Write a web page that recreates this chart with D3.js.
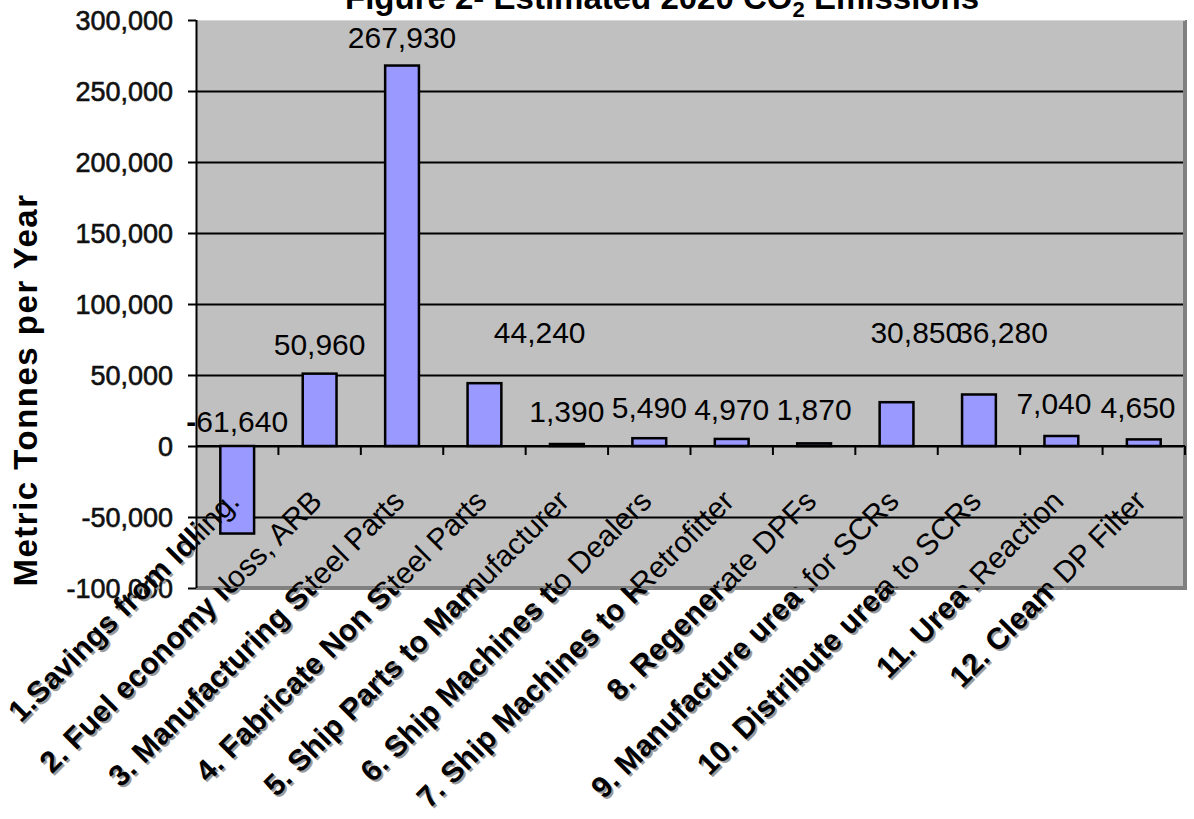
<!DOCTYPE html>
<html><head><meta charset="utf-8">
<script src="https://cdn.jsdelivr.net/npm/d3@7"></script>
<style>
html,body{margin:0;padding:0;background:#fff;}
svg{display:block;font-family:"Liberation Sans",Arial,sans-serif;}
</style></head>
<body><svg id="c" width="1194" height="819"></svg>
<script>
// ---- data ----
const categories = [
  "1.Savings from Idling.",
  "2. Fuel economy loss, ARB",
  "3. Manufacturing Steel Parts",
  "4. Fabricate Non Steel Parts",
  "5. Ship Parts to Manufacturer",
  "6. Ship Machines to Dealers",
  "7. Ship Machines to Retrofitter",
  "8. Regenerate DPFs",
  "9. Manufacture urea for SCRs",
  "10. Distribute urea to SCRs",
  "11. Urea Reaction",
  "12. Clean DP Filter"
];
const values = [-61640, 50960, 267930, 44240, 1390, 5490, 4970, 1870, 30850, 36280, 7040, 4650];
const yTicks = [-100000, -50000, 0, 50000, 100000, 150000, 200000, 250000, 300000];
const titleMain = "Figure 2- Estimated 2020 CO";
const titleSub = "2";
const titleEnd = " Emissions";
const yTitle = "Metric Tonnes per Year";
// value at which each data label's baseline sits (as placed in the original)
const labelAt = [10000, 64000, 280000, 72500, 16900, 19700, 18300, 18300, 72500, 72500, 22500, 19700];
// horizontal shift of each data label, in fractions of a category band
const labelShift = [0, 0, 0, 0.67, 0, 0, 0, 0, 0.24, 0.28, -0.09, -0.07];

// ---- layout ----
const W = 1194, H = 819;
const plot = {l: 196, r: 1185, t: 20, b: 588};
const svg = d3.select("#c");
const fmt0 = d3.format(",");
const fmt = d => fmt0(d).replace("\u2212", "-");

const x = d3.scaleBand().domain(categories).range([plot.l, plot.r]);
const y = d3.scaleLinear().domain([-100000, 300000]).range([plot.b, plot.t]);
const bw = x.bandwidth();
const barW = bw * 0.41;

const defs = svg.append("defs");
defs.append("clipPath").attr("id", "inside")
  .append("rect").attr("x", plot.l).attr("y", plot.t)
  .attr("width", plot.r - plot.l).attr("height", plot.b - plot.t);
defs.append("clipPath").attr("id", "outside")
  .append("path").attr("clip-rule", "evenodd")
  .attr("d", `M0,0H${W}V${H}H0Z M${plot.l},${plot.t}V${plot.b}H${plot.r}V${plot.t}Z`);

// plot background + shadow border
svg.append("rect").attr("x", plot.l).attr("y", plot.t)
  .attr("width", plot.r - plot.l + 2).attr("height", plot.b - plot.t + 2)
  .attr("fill", "#808080");
svg.append("rect").attr("x", plot.l).attr("y", plot.t)
  .attr("width", plot.r - plot.l - 2).attr("height", plot.b - plot.t - 2)
  .attr("fill", "#C0C0C0");
svg.append("line").attr("x1", plot.l).attr("x2", plot.r).attr("y1", plot.t + 0.5).attr("y2", plot.t + 0.5)
  .attr("stroke", "#d8d8d8").attr("stroke-width", 1);

// gridlines
const grid = svg.append("g").attr("transform", `translate(${plot.l},0)`)
  .call(d3.axisLeft(y).tickValues(yTicks.filter(v => v > -100000 && v < 300000))
    .tickSize(-(plot.r - plot.l - 2)).tickFormat(""));
grid.select(".domain").remove();
grid.selectAll("line").attr("stroke", "#000").attr("stroke-width", 2);

// y axis
const ya = svg.append("g").attr("transform", `translate(${plot.l},0)`)
  .call(d3.axisLeft(y).tickValues(yTicks).tickFormat(fmt).tickSize(8).tickPadding(15));
ya.select(".domain").attr("stroke", "#000").attr("stroke-width", 2)
  .attr("d", `M0.5,${plot.t}V${plot.b}`);
ya.selectAll(".tick line").attr("stroke", "#000").attr("stroke-width", 2);
ya.selectAll(".tick text").attr("font-size", 27).attr("fill", "#111")
  .attr("stroke", "#111").attr("stroke-width", 0.6)
  .attr("font-family", "'Liberation Sans',Arial,sans-serif").attr("dy", "0.36em");

// bars
svg.append("g").selectAll("rect").data(values).join("rect")
  .attr("x", (d, i) => x(categories[i]) + (bw - barW) / 2)
  .attr("y", d => y(Math.max(0, d)))
  .attr("width", barW)
  .attr("height", d => Math.max(1, Math.abs(y(d) - y(0))))
  .attr("fill", "#9999FF").attr("stroke", "#000").attr("stroke-width", 2.5);

// x axis line at zero + ticks at band boundaries
const y0 = y(0);
svg.append("line").attr("x1", plot.l).attr("x2", plot.r).attr("y1", y0).attr("y2", y0)
  .attr("stroke", "#000").attr("stroke-width", 2);
const bounds = categories.map(c => x(c)).concat([x(categories[categories.length - 1]) + bw]).slice(1);
svg.append("g").selectAll("line").data(bounds).join("line")
  .attr("x1", d => d).attr("x2", d => d).attr("y1", y0).attr("y2", y0 + 9)
  .attr("stroke", "#000").attr("stroke-width", 2);

// x category labels: bold+shadow outside plot, regular inside plot
function drawXLabels(g, bold, fill, dx, dy) {
  g.selectAll("text").data(categories).join("text")
    .attr("transform", c => `translate(${x(c) + bw / 2 + 4 + dx},${503 + dy}) rotate(-45)`)
    .attr("text-anchor", "end")
    .attr("font-size", 30)
    .attr("font-weight", bold ? "bold" : "normal")
    .attr("fill", fill)
    .text(c => c);
}
const outG = svg.append("g").attr("clip-path", "url(#outside)");
drawXLabels(outG.append("g"), true, "#9a9a9a", 2, 2);
drawXLabels(outG.append("g"), true, "#000", 0, 0);
const inG = svg.append("g").attr("clip-path", "url(#inside)");
drawXLabels(inG.append("g"), false, "#000", 0, 0);

// data labels
function drawDataLabels(g, bold) {
  g.selectAll("text").data(values).join("text")
    .attr("x", (d, i) => x(categories[i]) + bw / 2 + labelShift[i] * bw)
    .attr("y", (d, i) => y(labelAt[i]))
    .attr("text-anchor", "middle")
    .attr("font-size", 30)
    .attr("font-weight", bold ? "bold" : "normal")
    .attr("fill", "#000")
    .text(d => fmt(d));
}
drawDataLabels(svg.append("g").attr("clip-path", "url(#inside)"), false);
drawDataLabels(svg.append("g").attr("clip-path", "url(#outside)"), true);

// y axis title
svg.append("text")
  .attr("transform", `translate(37,390) rotate(-90)`)
  .attr("text-anchor", "middle").attr("font-size", 33).attr("font-weight", "bold")
  .attr("letter-spacing", 1.5)
  .attr("fill", "#000").text(yTitle);

// chart title (mostly cut off at the top)
const tt = svg.append("text").attr("x", 662).attr("y", 9)
  .attr("text-anchor", "middle").attr("font-size", 33).attr("font-weight", "bold").attr("fill", "#000");
tt.append("tspan").text(titleMain);
tt.append("tspan").attr("font-size", 22).attr("dy", 8).text(titleSub);
tt.append("tspan").attr("dy", -8).text(titleEnd);
</script>
</body></html>
